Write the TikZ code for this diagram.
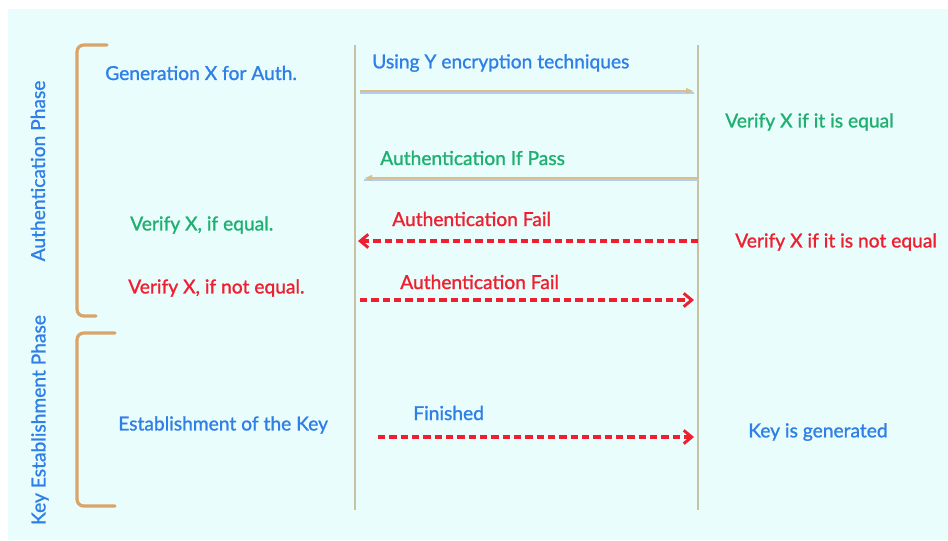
\documentclass[tikz,border=0pt]{standalone}
\usepackage{fontspec}
\setmainfont{Lato}[FakeBold=1.2]
\usetikzlibrary{arrows.meta}
\definecolor{bgcyan}{HTML}{E9FDFD}
\definecolor{txtblue}{HTML}{2F80E6}
\definecolor{txtgreen}{HTML}{1FB070}
\definecolor{txtred}{HTML}{EE2030}
\definecolor{lifeline}{HTML}{C8C2A4}
\definecolor{bracketc}{HTML}{D9A46A}
\definecolor{msgline}{HTML}{D6C08C}
\definecolor{msgshade}{HTML}{B4CCEA}
\tikzset{
  lbl/.style={inner sep=0pt, anchor=west, font=\fontsize{14.4pt}{16pt}\selectfont},
  bluetxt/.style={lbl, text=txtblue},
  greentxt/.style={lbl, text=txtgreen},
  redtxt/.style={lbl, text=txtred},
  phase/.style={inner sep=0pt, rotate=90, text=txtblue, font=\fontsize{14.4pt}{16pt}\selectfont},
  lifelinestyle/.style={draw=lifeline, line width=2.2pt},
  phasebracket/.style={draw=bracketc, line width=2.4pt, rounded corners=5pt, line cap=round},
  solidmsg/.style={draw=msgline, line width=1.6pt, -{Latex[length=6pt,width=5pt]}},
  failmsg/.style={draw=txtred, line width=2.3pt, dash pattern=on 5.5pt off 3pt,
    -{Straight Barb[length=6pt,width=10pt,line width=2.2pt]}},
}
\begin{document}
\begin{tikzpicture}[x=0.75pt,y=-0.75pt]
  % canvas
  \useasboundingbox (0,0) rectangle (948,540);
  \fill[white] (0,0) rectangle (948,540);
  \fill[bgcyan] (8,9) rectangle (948,540);

  % phase brackets
  \draw[phasebracket] (107,45) -- (77,45) -- (77,316) -- (96,316);
  \draw[phasebracket] (115,333) -- (77,333) -- (77,506) -- (115,506);
  \node[phase] (authphase) at (38,171) {Authentication Phase};
  \node[phase] (keyphase) at (40,420) {Key Establishment Phase};

  % lifelines
  \coordinate (Atop) at (355,45);
  \coordinate (Abot) at (355,510);
  \coordinate (Btop) at (698,45);
  \coordinate (Bbot) at (698,510);
  \draw[lifelinestyle] (Atop) -- (Abot);
  \draw[lifelinestyle] (Btop) -- (Bbot);

  % left side notes
  \node[bluetxt] (gen) at (105,73) {Generation X for Auth.};
  \node[greentxt] (veq) at (130,225) {Verify X, if equal.};
  \node[redtxt] (vneq) at (128,288) {Verify X, if not equal.};
  \node[bluetxt] (estkey) at (118,425) {Establishment of the Key};

  % right side notes
  \node[greentxt] (rveq) at (725,122) {Verify X if it is equal};
  \node[redtxt] (rvneq) at (735,242) {Verify X if it is not equal};
  \node[bluetxt] (keygen) at (748,432) {Key is generated};

  % message labels
  \node[bluetxt] (m1) at (372,63) {Using Y encryption techniques};
  \node[greentxt] (m2) at (380,158) {Authentication If Pass};
  \node[redtxt] (m3) at (392,219) {Authentication Fail};
  \node[redtxt] (m4) at (400,282) {Authentication Fail};
  \node[bluetxt] (m5) at (413,413) {Finished};

  % message end points on the lifelines
  \coordinate (s1) at (360,91);   \coordinate (e1) at (694,91);
  \coordinate (s2) at (698,178);  \coordinate (e2) at (364,178);
  \coordinate (s3) at (698,241);  \coordinate (e3) at (358,241);
  \coordinate (s4) at (360,300);  \coordinate (e4) at (694,300);
  \coordinate (s5) at (378,437);  \coordinate (e5) at (694,437);

  % solid messages with a faint shade under them
  \draw[msgshade, line width=1pt] ([yshift=-1.4pt]s1) -- ([yshift=-1.4pt]e1);
  \draw[solidmsg] (s1) -- (e1);
  \draw[msgshade, line width=1pt] ([yshift=-1.4pt]s2) -- ([yshift=-1.4pt]e2);
  \draw[solidmsg] (s2) -- (e2);

  % dashed messages
  \draw[failmsg] (s3) -- (e3);
  \draw[failmsg] (s4) -- (e4);
  \draw[failmsg] (s5) -- (e5);
\end{tikzpicture}
\end{document}
